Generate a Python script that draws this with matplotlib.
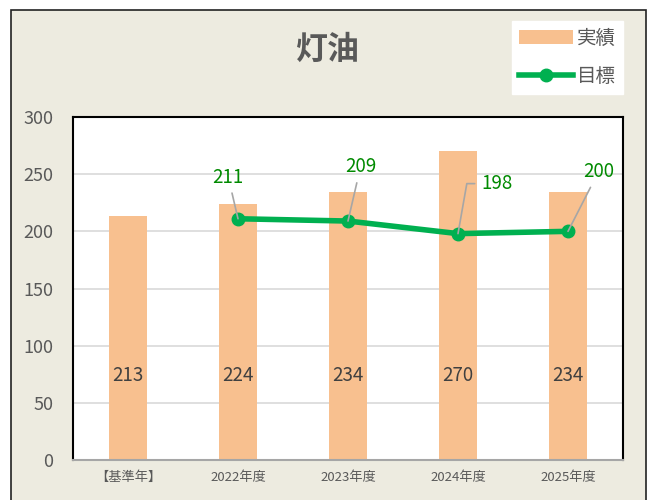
import matplotlib
matplotlib.use("Agg")
import matplotlib.pyplot as plt
from matplotlib.patches import Rectangle
from matplotlib.lines import Line2D
from matplotlib.patches import Patch

plt.rcParams['font.family'] = ['Noto Sans CJK JP', 'DejaVu Sans']

categories = ['【基準年】', '2022年度', '2023年度', '2024年度', '2025年度']
actual = [213, 224, 234, 270, 234]
target_idx = [1, 2, 3, 4]
target = [211, 209, 198, 200]

bar_color = '#F8C08F'
line_color = '#00B050'
label_green = '#008A00'
text_gray = '#595959'
bg = '#EDEBE0'

fig = plt.figure(figsize=(6.56, 5), dpi=100)
fig.patch.set_facecolor('white')
# chart area frame (behind the axes)
fig.patches.append(Rectangle((11 / 656, -0.01), 635 / 656, 1 - 10 / 500 + 0.01,
                             transform=fig.transFigure, facecolor=bg,
                             edgecolor='#222222', linewidth=1.2, zorder=-5))

ax = fig.add_axes([73 / 656, 40 / 500, 550 / 656, 343 / 500])
ax.set_facecolor('white')

x = list(range(len(categories)))
bars = ax.bar(x, actual, width=0.34, color=bar_color, zorder=2)
for xi, v in zip(x, actual):
    ax.text(xi, 74, str(v), ha='center', va='center', fontsize=13.5,
            color='#404040', zorder=4)

ax.plot(target_idx, target, color=line_color, linewidth=4, marker='o',
        markersize=9, zorder=3)

# data labels with leader lines (offsets in points)
offsets = {211: (-7, 30), 209: (9, 39), 198: (17, 36), 200: (22, 43)}
for xi, v in zip(target_idx, target):
    dx, dy = offsets[v]
    if v == 198:
        ax.annotate(str(v), xy=(xi, v), xytext=(dx, dy), textcoords='offset points',
                    ha='left', va='center', fontsize=13.5, color=label_green,
                    arrowprops=dict(arrowstyle='-', color='#A6A6A6', lw=1.2,
                                    shrinkA=3, shrinkB=0, relpos=(0, 0.5),
                                    connectionstyle='angle,angleA=0,angleB=80,rad=0'),
                    zorder=5)
    else:
        ax.annotate(str(v), xy=(xi, v), xytext=(dx, dy), textcoords='offset points',
                    ha='center', va='center', fontsize=13.5, color=label_green,
                    arrowprops=dict(arrowstyle='-', color='#A6A6A6', lw=1.2,
                                    shrinkA=2, shrinkB=0),
                    zorder=5)

ax.set_xlim(-0.5, len(categories) - 0.5)
ax.set_ylim(0, 300)
ax.set_yticks([0, 50, 100, 150, 200, 250, 300])
ax.set_xticks(x)
ax.set_xticklabels(categories, fontsize=9.5, color=text_gray)
ax.tick_params(axis='y', labelsize=13, labelcolor=text_gray, length=0, pad=14)
ax.tick_params(axis='x', length=0, pad=8)
ax.grid(axis='y', color='#D9D9D9', linewidth=1.2, zorder=1)
ax.set_axisbelow(True)
for side in ['top', 'left', 'right']:
    ax.spines[side].set_color('black')
    ax.spines[side].set_linewidth(1.5)
ax.spines['bottom'].set_color('#A6A6A6')
ax.spines['bottom'].set_linewidth(1.5)

fig.text(328 / 656, 1 - 50 / 500, '灯油', ha='center', va='center',
         fontsize=23, fontweight='bold', color=text_gray)

handles = [Patch(facecolor=bar_color, edgecolor='none'),
           Line2D([], [], color=line_color, linewidth=4, marker='o', markersize=9)]
leg = fig.legend(handles, ['実績', '目標'], loc='upper right',
                 bbox_to_anchor=(623 / 656, 1 - 21 / 500), frameon=True,
                 fontsize=14, handlelength=2.8, handleheight=0.7,
                 borderpad=0.35, labelspacing=0.9, handletextpad=0.2,
                 fancybox=False, borderaxespad=0, framealpha=1)
leg.get_frame().set_facecolor('white')
leg.get_frame().set_edgecolor('white')
for t in leg.get_texts():
    t.set_color(text_gray)

fig.savefig('out.png', dpi=100, facecolor=fig.get_facecolor())
